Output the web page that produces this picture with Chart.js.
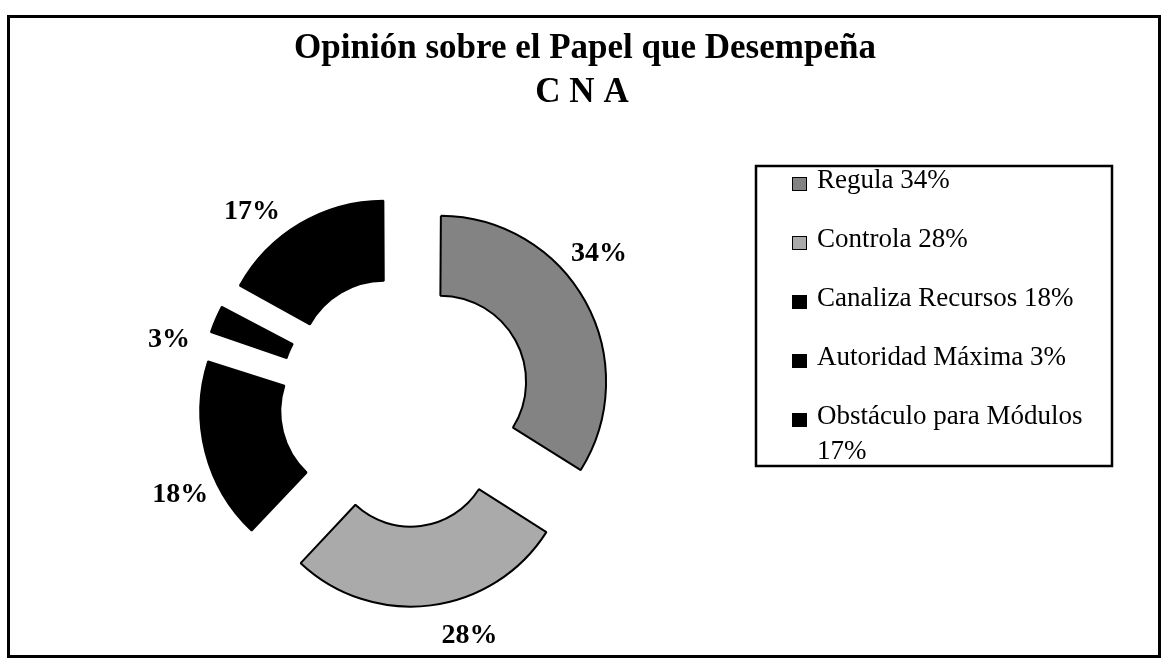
<!DOCTYPE html>
<html>
<head>
<meta charset="utf-8">
<script src="https://cdn.jsdelivr.net/npm/chart.js@4.4.1/dist/chart.umd.min.js"></script>
<style>
  html, body { margin: 0; padding: 0; background: #fff; }
  #wrap { width: 1164px; height: 660px; position: relative; }
</style>
</head>
<body>
<div id="wrap"><canvas id="graficaCNA"></canvas></div>
<script>
// datos
const categorias = ['Regula', 'Controla', 'Canaliza Recursos', 'Autoridad Máxima', 'Obstáculo para Módulos'];
const porcentajes = [34, 28, 18, 3, 17];
const colores = ['#838383', '#aaaaaa', '#000000', '#000000', '#000000'];
const titulo = ['Opinión sobre el Papel que Desempeña', 'C N A'];

const SERIF = '"Liberation Serif", "Times New Roman", serif';
const EXPLOTA = 46; // separacion de las rebanadas
const GIRO_ETIQUETAS = -10 * Math.PI / 180; // las etiquetas van un poco antes del centro de la rebanada

// Chart.js empuja hacia afuera las rebanadas angostas; se compensa para que todas se separen igual
function offsetRebanada(c) {
    const total = porcentajes.reduce((a, b) => a + b, 0);
    const circ = porcentajes[c.dataIndex] / total * 2 * Math.PI;
    const fix = 1 - Math.sin(Math.min(Math.PI, circ));
    return 4 * EXPLOTA / (1 + fix);
}

// porcentajes fuera del anillo
const etiquetasPlugin = {
    id: 'etiquetas',
    afterDatasetsDraw(chart) {
        const ctx = chart.ctx;
        const meta = chart.getDatasetMeta(0);
        ctx.save();
        ctx.font = 'bold 28px ' + SERIF;
        ctx.fillStyle = '#000';
        ctx.textAlign = 'center';
        ctx.textBaseline = 'middle';
        meta.data.forEach((arc, i) => {
            const p = arc.getProps(['x', 'y', 'startAngle', 'endAngle', 'outerRadius', 'circumference']);
            const mid = (p.startAngle + p.endAngle) / 2;
            const t = (arc.options.offset || 0) / 4;
            const fix = 1 - Math.sin(Math.min(Math.PI, p.circumference));
            // centro de la rebanada desplazada
            const cx = p.x + Math.cos(mid) * t;
            const cy = p.y + Math.sin(mid) * t;
            const r = p.outerRadius + t * fix + 38;
            const a = mid + GIRO_ETIQUETAS;
            ctx.fillText(porcentajes[i] + '%', cx + Math.cos(a) * r, cy + Math.sin(a) * r);
        });
        ctx.restore();
    }
};

// marco, titulo y leyenda con recuadro
const marcoPlugin = {
    id: 'marco',
    afterDraw(chart) {
        const ctx = chart.ctx;
        ctx.save();
        ctx.strokeStyle = '#000';
        ctx.lineWidth = 3;
        ctx.strokeRect(8.5, 16.5, 1151, 640);

        ctx.fillStyle = '#000';
        ctx.textAlign = 'center';
        ctx.textBaseline = 'alphabetic';
        ctx.font = 'bold 35px ' + SERIF;
        ctx.fillText(titulo[0], 585, 58);
        ctx.fillText(titulo[1], 582, 102);

        ctx.lineWidth = 2.5;
        ctx.strokeRect(756, 166, 356, 300);

        ctx.textAlign = 'left';
        ctx.font = '27px ' + SERIF;
        const maxW = 280;
        let base = 188;
        categorias.forEach((cat, i) => {
            ctx.fillStyle = colores[i];
            ctx.fillRect(792, base - 11, 15, 14);
            ctx.strokeStyle = '#000';
            ctx.lineWidth = 1;
            ctx.strokeRect(792.5, base - 10.5, 14, 13);
            ctx.fillStyle = '#000';
            // partir el texto en renglones
            const palabras = (cat + ' ' + porcentajes[i] + '%').split(' ');
            let linea = '';
            let y = base;
            palabras.forEach(w => {
                const prueba = linea ? linea + ' ' + w : w;
                if (ctx.measureText(prueba).width > maxW && linea) {
                    ctx.fillText(linea, 817, y);
                    linea = w;
                    y += 35;
                } else {
                    linea = prueba;
                }
            });
            ctx.fillText(linea, 817, y);
            base += 59;
        });
        ctx.restore();
    }
};

const ctx = document.getElementById('graficaCNA').getContext('2d');
const grafica = new Chart(ctx, {
    type: 'doughnut',
    data: {
        labels: categorias,
        datasets: [{
            data: porcentajes,
            backgroundColor: colores,
            borderColor: '#000',
            borderWidth: 2,
            offset: offsetRebanada,
            hoverOffset: 0
        }]
    },
    options: {
        responsive: true,
        maintainAspectRatio: false,
        animation: false,
        events: [],
        radius: 160,
        cutout: '50%',
        layout: {
            padding: { left: 150, right: 504, top: 150, bottom: 8 }
        },
        plugins: {
            legend: { display: false },
            title: { display: false },
            tooltip: { enabled: false }
        }
    },
    plugins: [etiquetasPlugin, marcoPlugin]
});
</script>
</body>
</html>
